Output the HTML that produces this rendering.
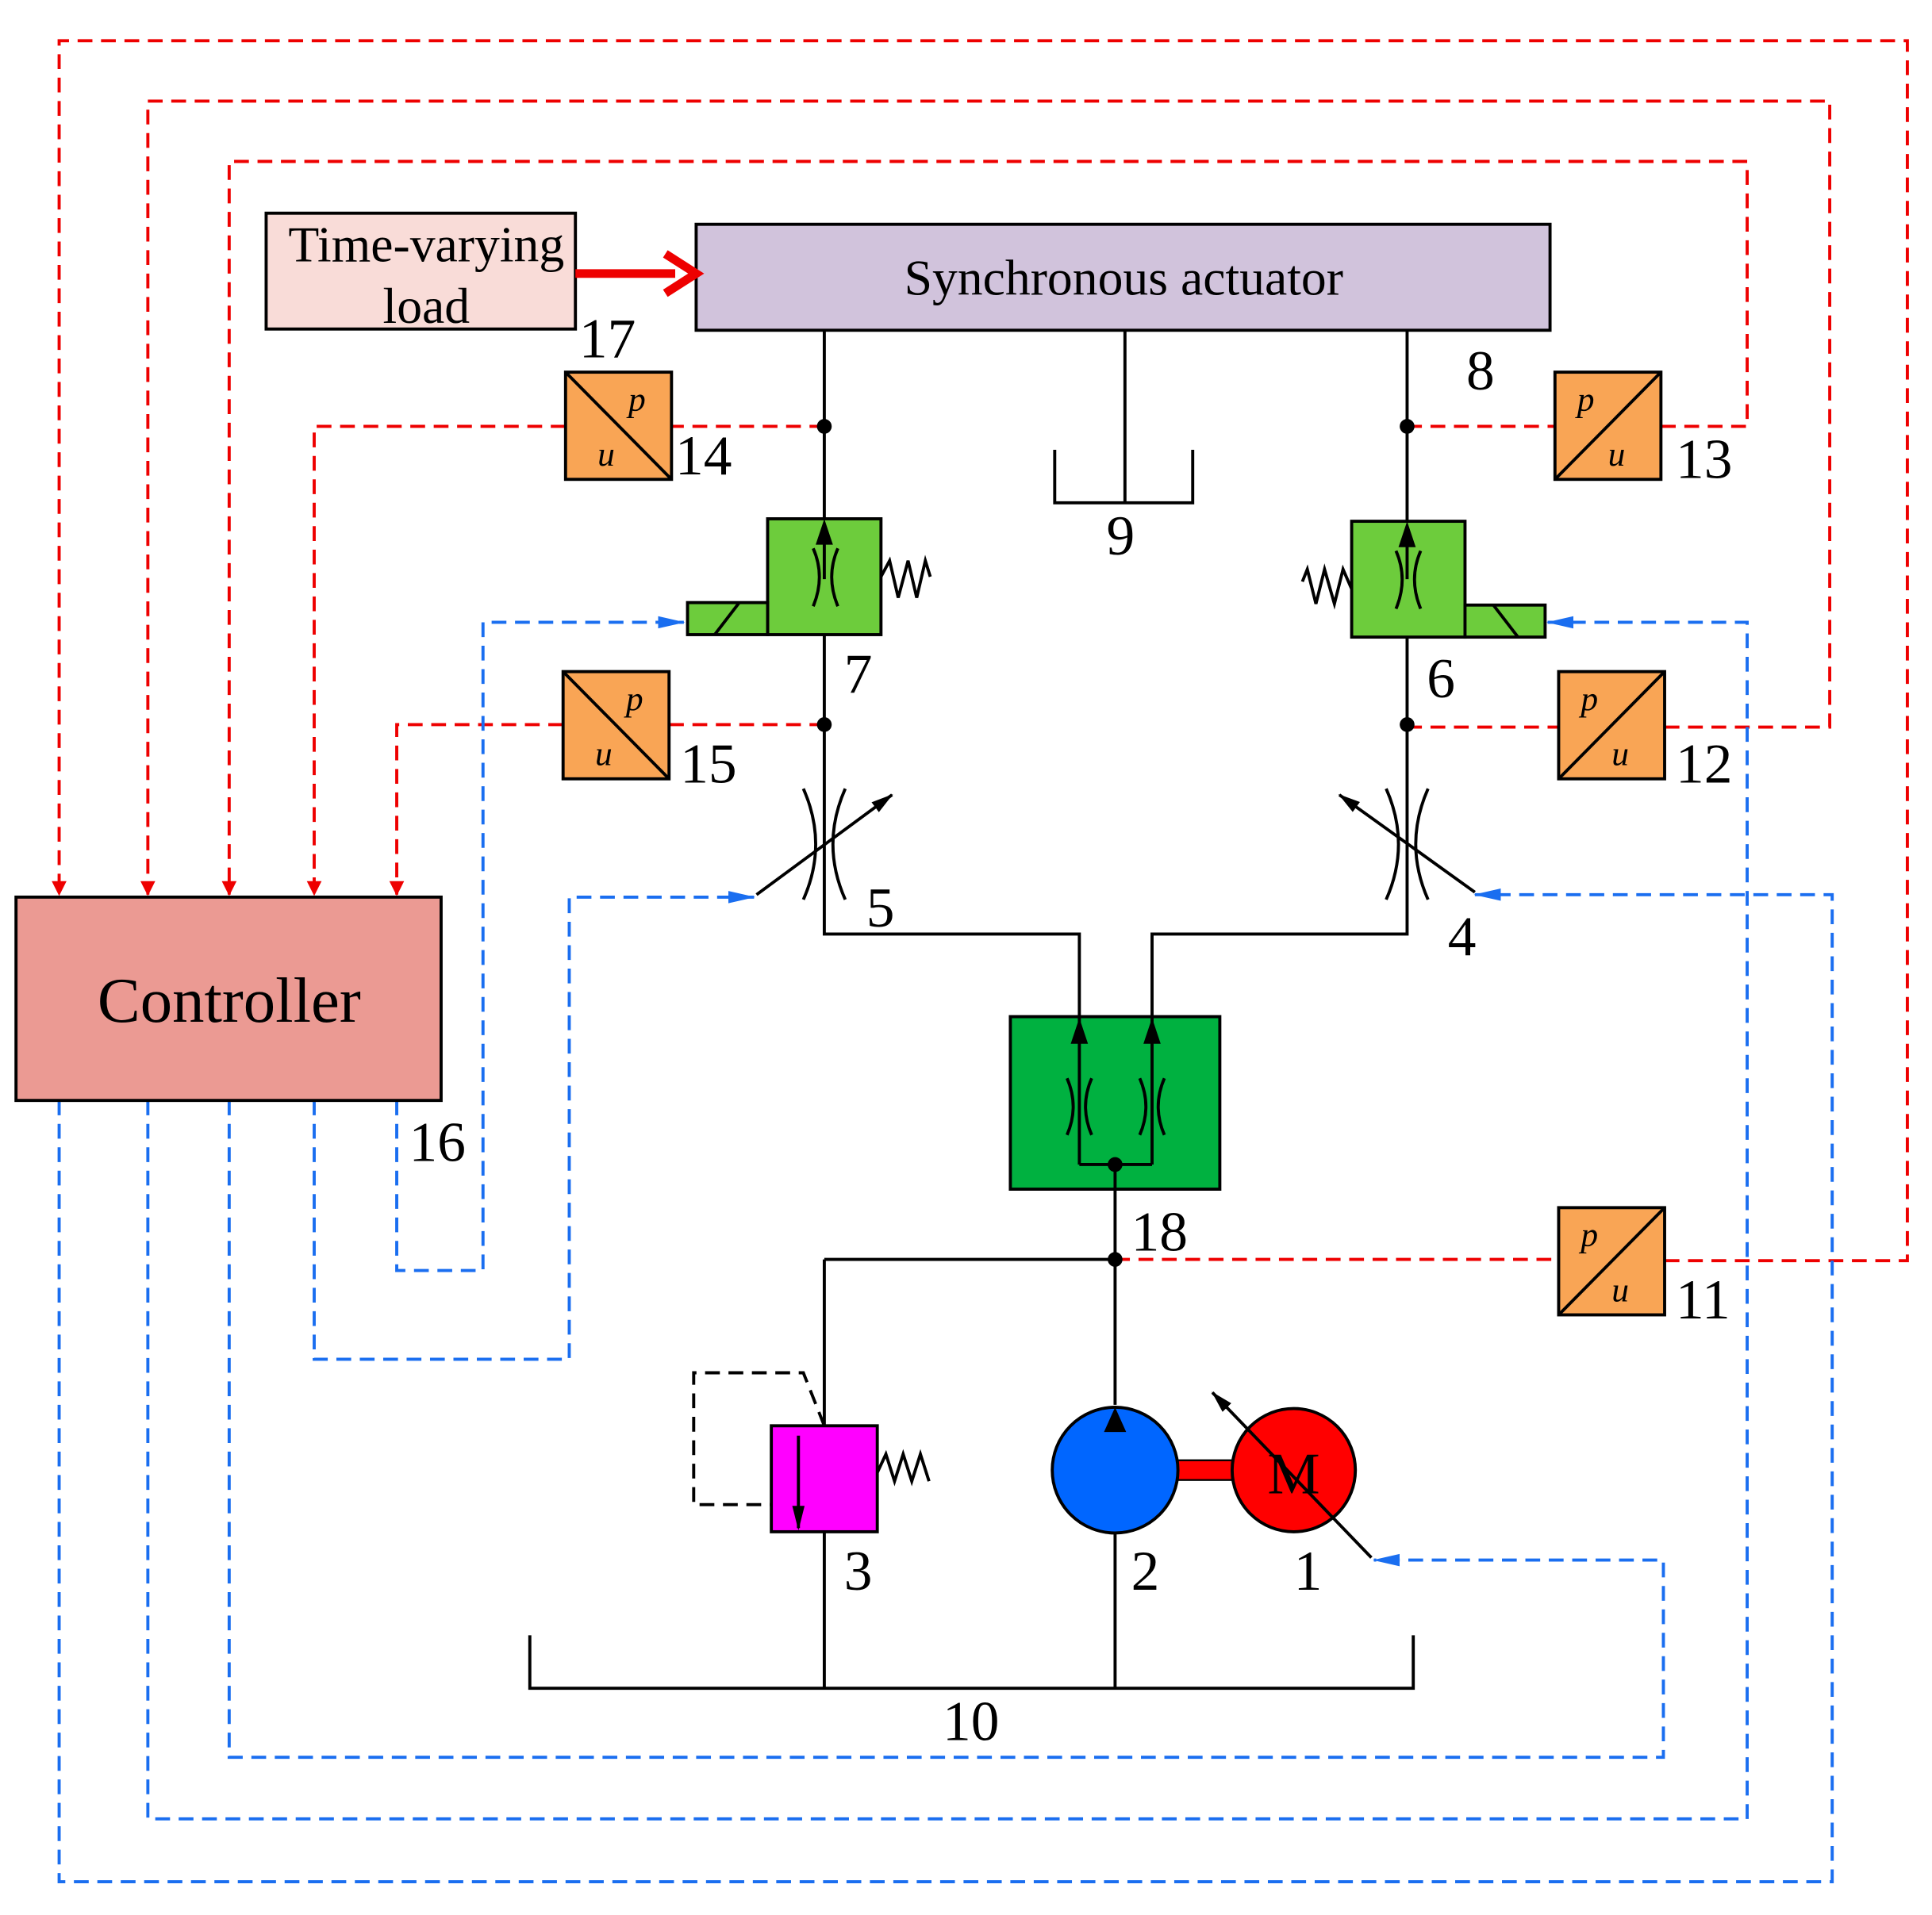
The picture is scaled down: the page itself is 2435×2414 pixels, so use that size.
<!DOCTYPE html>
<html><head><meta charset="utf-8"><style>html,body{margin:0;padding:0;background:#fff}svg{display:block}</style></head><body>
<svg width="2435" height="2414" viewBox="0 0 1568 1554" preserveAspectRatio="none" xmlns="http://www.w3.org/2000/svg" font-family="Liberation Serif, serif">
<defs>
<marker id="ar" markerWidth="12" markerHeight="14" refX="11" refY="7" orient="auto" markerUnits="userSpaceOnUse"><path d="M0,1 L12,7 L0,13z" fill="#e00"/></marker>
<marker id="ab" markerWidth="22" markerHeight="12" refX="21" refY="6" orient="auto" markerUnits="userSpaceOnUse"><path d="M0,1 L22,6 L0,11z" fill="#1a6ef0"/></marker>
<marker id="ak" markerWidth="18" markerHeight="12" refX="17" refY="6" orient="auto" markerUnits="userSpaceOnUse"><path d="M0,1 L18,6 L0,11z" fill="#000"/></marker>
</defs>
<rect width="1568" height="1554" fill="#fff"/>
<g fill="none" stroke="#e00" stroke-width="2.5" stroke-dasharray="12,7">
<path d="M1351,1023 H1548 V33 H48 V726" marker-end="url(#ar)"/>
<path d="M1351,590 H1485 V82 H120 V726" marker-end="url(#ar)"/>
<path d="M1348,346 H1418 V131 H186 V726" marker-end="url(#ar)"/>
<path d="M459,346 H255 V726" marker-end="url(#ar)"/>
<path d="M457,588 H322 V726" marker-end="url(#ar)"/>
<path d="M669,346 H545 M1142,346 H1262 M669,588 H543 M1142,590 H1265 M905,1022 H1265"/>
</g>
<g fill="none" stroke="#1a6ef0" stroke-width="2.5" stroke-dasharray="12,7">
<path d="M322,893 V1031 H392 V505 H555" marker-end="url(#ab)"/>
<path d="M255,893 V1103 H462 V728 H612" marker-end="url(#ab)"/>
<path d="M186,893 V1426 H1350 V1266 H1115" marker-end="url(#ab)"/>
<path d="M120,893 V1476 H1418 V505 H1256" marker-end="url(#ab)"/>
<path d="M48,893 V1527 H1487 V726 H1197" marker-end="url(#ab)"/>
</g>
<rect x="13" y="728" width="345" height="165" fill="#eb9a93" stroke="#000" stroke-width="2.5"/>
<text x="186" y="829" font-size="52" text-anchor="middle">Controller</text>
<rect x="565" y="182" width="693" height="86" fill="#d1c3dc" stroke="#000" stroke-width="2.5"/>
<text x="912" y="239" font-size="41" text-anchor="middle">Synchronous actuator</text>
<rect x="216" y="173" width="251" height="94" fill="#f9dcd8" stroke="#000" stroke-width="2.5"/>
<text x="346" y="212" font-size="41" text-anchor="middle">Time-varying</text>
<text x="346" y="262" font-size="41" text-anchor="middle">load</text>
<path d="M467,222 H548" stroke="#e00" stroke-width="7"/>
<path d="M540,206 L565,222 L540,238" fill="none" stroke="#e00" stroke-width="7"/>
<g fill="none" stroke="#000" stroke-width="2.5">
<path d="M669,268 V758 H876 V825 M1142,268 V758 H935 V825"/>
<path d="M913,268 V408 M856,365 V408 H968 V365"/>
<path d="M905,945 V1140 M905,1244 V1370 M669,1022 H905 M669,1022 V1157 M669,1243 V1370 M430,1327 V1370 H1147 V1327"/>
</g>
<rect x="623" y="421" width="92" height="94" fill="#6dcc3c" stroke="#000" stroke-width="2.5"/>
<rect x="558" y="489" width="65" height="26" fill="#6dcc3c" stroke="#000" stroke-width="2.5"/>
<path d="M580,515 L600,489" stroke="#000" stroke-width="2.5"/>
<path d="M715,468 L722,455 L729,485 L737,455 L744,485 L751,455 L755,468" fill="none" stroke="#000" stroke-width="2.5"/>
<rect x="1097" y="423" width="92" height="94" fill="#6dcc3c" stroke="#000" stroke-width="2.5"/>
<rect x="1189" y="491" width="65" height="26" fill="#6dcc3c" stroke="#000" stroke-width="2.5"/>
<path d="M1212,491 L1232,517" stroke="#000" stroke-width="2.5"/>
<path d="M1097,478 L1090,462 L1083,490 L1075,462 L1068,490 L1061,462 L1057,472" fill="none" stroke="#000" stroke-width="2.5"/>
<g fill="none" stroke="#000" stroke-width="2.5">
<path d="M660,445 Q670,468 660,492 M680,445 Q670,468 680,492"/>
<path d="M1133,447 Q1143,470 1133,494 M1153,447 Q1143,470 1153,494"/>
<path d="M669,470 V440 M1142,470 V442"/>
<path d="M652,640 Q672,685 652,730 M686,640 Q666,685 686,730"/>
<path d="M1125,640 Q1145,685 1125,730 M1159,640 Q1139,685 1159,730"/>
<path d="M614,726 L724,645" marker-end="url(#ak)"/>
<path d="M1197,724 L1087,645" marker-end="url(#ak)"/>
</g>
<path d="M662,442 L669,421 L676,442z M1135,444 L1142,423 L1149,444z" fill="#000"/>
<rect x="820" y="825" width="170" height="140" fill="#00b140" stroke="#000" stroke-width="2.5"/>
<g fill="none" stroke="#000" stroke-width="2.5">
<path d="M876,945 V825 M935,945 V825 M876,945 H935 M905,945 V965" />
<path d="M866,875 Q876,898 866,921 M886,875 Q876,898 886,921"/>
<path d="M925,875 Q935,898 925,921 M945,875 Q935,898 945,921"/>
</g>
<path d="M869,847 L876,826 L883,847z M928,847 L935,826 L942,847z" fill="#000"/>
<g fill="#000"><circle cx="669" cy="346" r="6"/><circle cx="1142" cy="346" r="6"/><circle cx="669" cy="588" r="6"/><circle cx="1142" cy="588" r="6"/><circle cx="905" cy="945" r="6"/><circle cx="905" cy="1022" r="6"/></g>
<path d="M669,1157 L652,1114 H563 V1221 H626" fill="none" stroke="#000" stroke-width="2.5" stroke-dasharray="12,7"/>
<rect x="626" y="1157" width="86" height="86" fill="#ff00ff" stroke="#000" stroke-width="2.5"/>
<path d="M648,1165 V1240" stroke="#000" stroke-width="2.5"/>
<path d="M643,1222 L648,1242 L653,1222z" fill="#000"/>
<path d="M712,1195 L719,1180 L726,1202 L733,1180 L740,1202 L747,1180 L754,1202" fill="none" stroke="#000" stroke-width="2.5"/>
<rect x="956" y="1185" width="44" height="16" fill="#f00" stroke="#000" stroke-width="1.5"/>
<circle cx="905" cy="1193" r="51" fill="#0066ff" stroke="#000" stroke-width="2.5"/>
<path d="M896,1162 L905,1142 L914,1162z" fill="#000"/>
<circle cx="1050" cy="1193" r="50" fill="#f00" stroke="#000" stroke-width="2.5"/>
<text x="1050" y="1212" font-size="48" text-anchor="middle">M</text>
<path d="M1113,1264 L984,1130" stroke="#000" stroke-width="2.5" marker-end="url(#ak)"/>
<g stroke="#000" stroke-width="2.5">
<rect x="459" y="302" width="86" height="87" fill="#f9a555"/><path d="M459,302 L545,389"/>
<rect x="457" y="545" width="86" height="87" fill="#f9a555"/><path d="M457,545 L543,632"/>
<rect x="1262" y="302" width="86" height="87" fill="#f9a555"/><path d="M1262,389 L1348,302"/>
<rect x="1265" y="545" width="86" height="87" fill="#f9a555"/><path d="M1265,632 L1351,545"/>
<rect x="1265" y="980" width="86" height="87" fill="#f9a555"/><path d="M1265,1067 L1351,980"/>
</g>
<g font-size="28" font-style="italic">
<text x="510" y="333">p</text><text x="485" y="378">u</text>
<text x="508" y="576">p</text><text x="483" y="621">u</text>
<text x="1280" y="333">p</text><text x="1305" y="378">u</text>
<text x="1283" y="576">p</text><text x="1308" y="621">u</text>
<text x="1283" y="1011">p</text><text x="1308" y="1056">u</text>
</g>
<g font-size="46">
<text x="470" y="290">17</text><text x="548" y="385">14</text><text x="1360" y="388">13</text>
<text x="1190" y="316">8</text><text x="898" y="450">9</text><text x="685" y="562">7</text>
<text x="1158" y="566">6</text><text x="552" y="635">15</text><text x="1360" y="635">12</text>
<text x="703" y="752">5</text><text x="1175" y="775">4</text><text x="332" y="942">16</text>
<text x="918" y="1015">18</text><text x="1360" y="1070">11</text><text x="685" y="1290">3</text>
<text x="918" y="1290">2</text><text x="1050" y="1290">1</text><text x="765" y="1412">10</text>
</g>
</svg>
</body></html>
